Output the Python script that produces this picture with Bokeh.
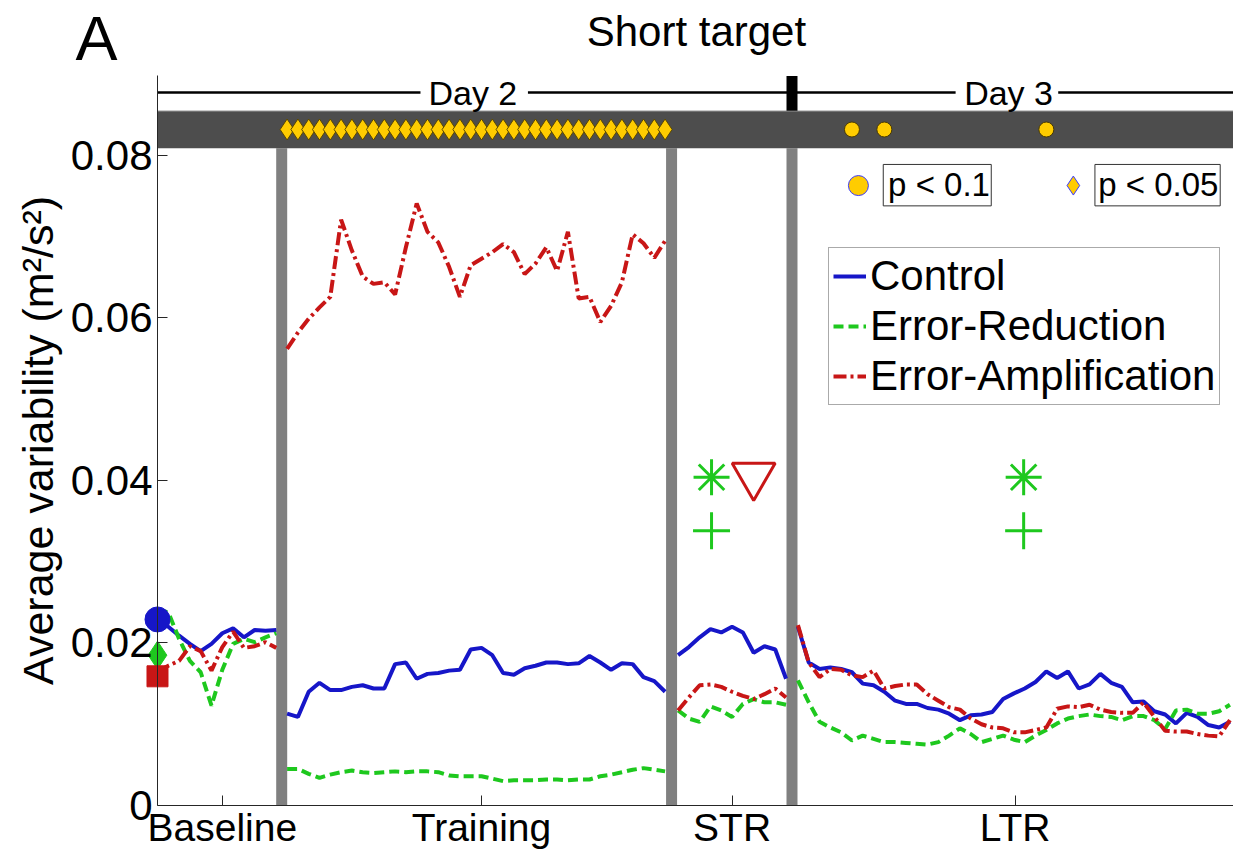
import numpy as np
from bokeh.plotting import figure
from bokeh.models import Range1d, FixedTicker, Label, Legend, LegendItem
from bokeh.embed import file_html
from bokeh.resources import INLINE

# ---------------------------------------------------------------
# Average variability per block (m^2/s^2), split by experimental phase
# ---------------------------------------------------------------
control_baseline = [0.0230, 0.0220, 0.0209, 0.0199, 0.0190, 0.0199, 0.0212, 0.0218,
                    0.0207, 0.0216, 0.0215, 0.0216]
reduction_baseline = [0.0240, 0.0238, 0.0205, 0.0178, 0.0164, 0.0123, 0.0167, 0.0199,
                      0.0205, 0.0201, 0.0207, 0.0212]
amplification_baseline = [0.0165, 0.0172, 0.0178, 0.0196, 0.0190, 0.0166, 0.0195, 0.0214,
                          0.0194, 0.0196, 0.0201, 0.0194]

control_training = [0.0113, 0.0109, 0.0140, 0.0151, 0.0142, 0.0142, 0.0146, 0.0148,
                    0.0144, 0.0144, 0.0174, 0.0176, 0.0156, 0.0162, 0.0163, 0.0166,
                    0.0167, 0.0192, 0.0194, 0.0185, 0.0163, 0.0161, 0.0169, 0.0172,
                    0.0176, 0.0176, 0.0174, 0.0175, 0.0184, 0.0176, 0.0167, 0.0175,
                    0.0174, 0.0158, 0.0153, 0.0140]
reduction_training = [0.0045, 0.0045, 0.0039, 0.0034, 0.0038, 0.0041, 0.0043, 0.0041,
                      0.0040, 0.0041, 0.0042, 0.0041, 0.0042, 0.0042, 0.0041, 0.0037,
                      0.0036, 0.0036, 0.0036, 0.0033, 0.0030, 0.0031, 0.0031, 0.0031,
                      0.0032, 0.0032, 0.0031, 0.0032, 0.0032, 0.0036, 0.0038, 0.0041,
                      0.0044, 0.0046, 0.0044, 0.0042]
amplification_training = [0.0562, 0.0582, 0.0599, 0.0613, 0.0626, 0.0721, 0.0683, 0.0651,
                          0.0642, 0.0644, 0.0629, 0.0687, 0.0741, 0.0706, 0.0693, 0.0663,
                          0.0626, 0.0665, 0.0673, 0.0681, 0.0691, 0.0681, 0.0654, 0.0667,
                          0.0687, 0.0658, 0.0706, 0.0624, 0.0626, 0.0595, 0.0615, 0.0644,
                          0.0703, 0.0692, 0.0674, 0.0695]

control_str = [0.0185, 0.0195, 0.0207, 0.0217, 0.0213, 0.0220, 0.0213, 0.0188,
               0.0196, 0.0192, 0.0156]
reduction_str = [0.0117, 0.0107, 0.0103, 0.0122, 0.0117, 0.0109, 0.0125, 0.0131,
                 0.0127, 0.0127, 0.0124]
amplification_str = [0.0117, 0.0133, 0.0148, 0.0149, 0.0146, 0.0140, 0.0135, 0.0131,
                     0.0137, 0.0144, 0.0133]

control_ltr = [0.0220, 0.0176, 0.0168, 0.0170, 0.0168, 0.0164, 0.0150, 0.0148,
               0.0140, 0.0129, 0.0125, 0.0125, 0.0120, 0.0118, 0.0113, 0.0105,
               0.0111, 0.0112, 0.0115, 0.0131, 0.0138, 0.0144, 0.0152, 0.0165,
               0.0157, 0.0165, 0.0144, 0.0149, 0.0162, 0.0151, 0.0146, 0.0127,
               0.0128, 0.0116, 0.0112, 0.0101, 0.0114, 0.0109, 0.0099, 0.0096,
               0.0103]
reduction_ltr = [0.0154, 0.0127, 0.0103, 0.0096, 0.0090, 0.0080, 0.0086, 0.0082,
                 0.0078, 0.0078, 0.0077, 0.0076, 0.0075, 0.0078, 0.0086, 0.0095,
                 0.0088, 0.0078, 0.0082, 0.0086, 0.0081, 0.0078, 0.0086, 0.0093,
                 0.0101, 0.0107, 0.0110, 0.0112, 0.0110, 0.0109, 0.0105, 0.0110,
                 0.0110, 0.0105, 0.0094, 0.0117, 0.0118, 0.0113, 0.0113, 0.0116,
                 0.0124]
amplification_ltr = [0.0222, 0.0176, 0.0158, 0.0168, 0.0167, 0.0160, 0.0158, 0.0166,
                     0.0144, 0.0147, 0.0149, 0.0149, 0.0137, 0.0129, 0.0121, 0.0118,
                     0.0107, 0.0100, 0.0096, 0.0095, 0.0090, 0.0090, 0.0093, 0.0096,
                     0.0119, 0.0122, 0.0121, 0.0124, 0.0118, 0.0115, 0.0114, 0.0114,
                     0.0127, 0.0109, 0.0092, 0.0091, 0.0091, 0.0088, 0.0086, 0.0085,
                     0.0105]

# first-block markers drawn on the y axis
first_block = {"Control": 0.0229, "Error-Reduction": 0.0185, "Error-Amplification": 0.0159}

# blocks with significant group differences (indices within a phase)
p05_training_blocks = list(range(36))
p10_ltr_blocks = [5, 8, 23]

# pairwise test markers above STR / LTR
star_x = [51.3, 80.2]
star_y = [0.0404, 0.0404]
plus_x = [51.3, 80.2]
plus_y = [0.0338, 0.0338]
tri_x = [55.2]
tri_y = [0.0406]

phase_labels = ["Baseline", "Training", "STR", "LTR"]
phase_ticks = [6.0, 30.0, 53.2, 79.4]

# block axis layout: first block of each phase and the phase separators
phase_start = {"Baseline": 0.0, "Training": 12.0, "STR": 48.2, "LTR": 59.3}
separators = [11.5, 47.6, 58.75]
X_END = 99.63
Y_END = 0.0898

# the frame spans the whole canvas; the axes are pinned at x=0 and y=0
X_VIEW = (-14.537, X_END)
Y_VIEW = (-0.005908, 0.099077)

BLUE = "#1616c8"
GREEN = "#1ec81e"
RED = "#c81616"
FONT = "Liberation Sans"


def join_phases(parts):
    xs, ys = [], []
    for phase, vals in parts:
        xs += list(phase_start[phase] + np.arange(len(vals))) + [np.nan]
        ys += list(vals) + [np.nan]
    return xs[:-1], ys[:-1]


p = figure(width=1233, height=853, output_backend="svg", toolbar_location=None,
           x_range=Range1d(*X_VIEW), y_range=Range1d(*Y_VIEW),
           min_border_left=0, min_border_right=0, min_border_top=0,
           min_border_bottom=0)
p.outline_line_color = None
p.xgrid.visible = False
p.ygrid.visible = False

# phase separators
p.segment(x0=separators, y0=[0] * 3, x1=separators, y1=[0.0809] * 3,
          line_color="#808080", line_width=11)

# significance band across the top
p.quad(left=[0], right=[X_END], bottom=[0.0809], top=[0.0855],
       fill_color="#4d4d4d", line_color=None)
p.segment(x0=[0], y0=[0.0855], x1=[X_END], y1=[0.0855], line_color="#c8c8c8", line_width=1)

band_mid = 0.0832
p.scatter(x=[phase_start["Training"] + i for i in p05_training_blocks],
          y=[band_mid] * len(p05_training_blocks), marker="diamond", size=21,
          fill_color="#ffcc00", line_color="#5a4800", line_width=1)
p.scatter(x=[phase_start["LTR"] + i for i in p10_ltr_blocks],
          y=[band_mid] * len(p10_ltr_blocks), marker="circle", size=15,
          fill_color="#ffcc00", line_color="#4a3a00", line_width=1)

# day header line
day_y = 0.08775
p.segment(x0=[0, 34.3, 83.4], y0=[day_y] * 3, x1=[24.35, 73.9, X_END], y1=[day_y] * 3,
          line_color="black", line_width=2.5)
p.segment(x0=[separators[2]], y0=[0.0855], x1=[separators[2]], y1=[Y_END],
          line_color="black", line_width=11)
for txt, xc in (("Day 2", 29.2), ("Day 3", 78.8)):
    p.add_layout(Label(x=xc, y=day_y, text=txt, text_align="center",
                       text_baseline="middle", text_font=FONT,
                       text_font_size="34px", text_color="black"))

# group curves
cx, cy = join_phases([("Baseline", control_baseline), ("Training", control_training),
                      ("STR", control_str), ("LTR", control_ltr)])
rx, ry = join_phases([("Baseline", reduction_baseline), ("Training", reduction_training),
                      ("STR", reduction_str), ("LTR", reduction_ltr)])
ax, ay = join_phases([("Baseline", amplification_baseline), ("Training", amplification_training),
                      ("STR", amplification_str), ("LTR", amplification_ltr)])

r_ctrl = p.line(cx, cy, line_color=BLUE, line_width=4)
r_red = p.line(rx, ry, line_color=GREEN, line_width=4, line_dash="10 5")
r_amp = p.line(ax, ay, line_color=RED, line_width=4, line_dash="13 4 3 4")

# first-block markers
p.scatter(x=[0], y=[first_block["Control"]], marker="circle", size=25,
          fill_color=BLUE, line_color=BLUE)
p.scatter(x=[0], y=[first_block["Error-Reduction"]], marker="diamond", size=28,
          fill_color=GREEN, line_color=GREEN)
p.scatter(x=[0], y=[first_block["Error-Amplification"]], marker="square", size=21,
          fill_color=RED, line_color=RED)

# test markers
p.scatter(x=star_x, y=star_y, marker="asterisk", size=36, line_color=GREEN, line_width=3)
p.scatter(x=plus_x, y=plus_y, marker="cross", size=37, line_color=GREEN, line_width=3)
p.scatter(x=tri_x, y=tri_y, marker="inverted_triangle", size=43, fill_color=None,
          line_color=RED, line_width=3)

# p-value key
key_y = 0.07649
p.scatter(x=[64.9], y=[0.0763], marker="circle", size=20, fill_color="#ffcc00",
          line_color="#3a3aff", line_width=1)
p.scatter(x=[84.8], y=[0.0763], marker="diamond", size=19, fill_color="#ffcc00",
          line_color="#3a3aff", line_width=1)
p.quad(left=[67.2, 86.8], right=[77.2, 98.4], bottom=[0.0738, 0.0738], top=[0.0789, 0.0789],
       fill_color="white", line_color="#333333", line_width=1)
for txt, x0 in (("p < 0.1", 67.65), ("p < 0.05", 87.1)):
    p.add_layout(Label(x=x0, y=key_y, text=txt, text_align="left",
                       text_baseline="middle", text_font=FONT,
                       text_font_size="33px", text_color="black"))

# legend
legend = Legend(items=[LegendItem(label="Control", renderers=[r_ctrl]),
                       LegendItem(label="Error-Reduction", renderers=[r_red]),
                       LegendItem(label="Error-Amplification", renderers=[r_amp])],
                location=(828, 448), orientation="vertical")
legend.label_text_font = FONT
legend.label_text_font_size = "42px"
legend.label_text_color = "black"
legend.glyph_width = 33
legend.glyph_height = 20
legend.label_standoff = 4
legend.spacing = 2
legend.padding = 4
legend.margin = 0
legend.border_line_color = "#555555"
legend.border_line_width = 1
legend.background_fill_alpha = 1
p.add_layout(legend)

# axes, pinned to the data origin
p.xaxis.fixed_location = 0
p.yaxis.fixed_location = 0
p.xaxis.bounds = (0, X_END)
p.yaxis.bounds = (0, Y_END)
p.xaxis.ticker = FixedTicker(ticks=phase_ticks)
p.xaxis.major_label_overrides = {t: lab for t, lab in zip(phase_ticks, phase_labels)}
p.yaxis.ticker = FixedTicker(ticks=[0, 0.02, 0.04, 0.06, 0.08])
p.yaxis.major_label_overrides = {0: "0", 0.02: "0.02", 0.04: "0.04", 0.06: "0.06", 0.08: "0.08"}
for axis in (p.xaxis[0], p.yaxis[0]):
    axis.axis_line_color = "#262626"
    axis.axis_line_width = 1
    axis.major_tick_line_color = "#262626"
    axis.major_tick_in = 10
    axis.major_tick_out = 0
    axis.minor_tick_line_color = None
    axis.major_label_text_font = FONT
    axis.major_label_text_font_size = "42px"
    axis.major_label_text_color = "black"
p.xaxis.major_label_text_font_size = "39px"
p.xaxis.major_label_standoff = 1
p.yaxis.major_label_standoff = 5
p.yaxis.axis_label = "Average variability (m²/s²)"
p.yaxis.axis_label_text_font = FONT
p.yaxis.axis_label_text_font_size = "43px"
p.yaxis.axis_label_text_font_style = "normal"
p.yaxis.axis_label_text_color = "black"
p.yaxis.axis_label_standoff = 6

# panel titles
p.add_layout(Label(x=49.9, y=0.09526, text="Short target", text_align="center",
                   text_baseline="middle", text_font=FONT, text_font_size="42px",
                   text_color="black"))
p.add_layout(Label(x=-7.6, y=0.09446, text="A", text_align="left",
                   text_baseline="middle", text_font=FONT, text_font_size="63px",
                   text_color="black"))

open("out.html", "w").write(file_html(p, INLINE))
